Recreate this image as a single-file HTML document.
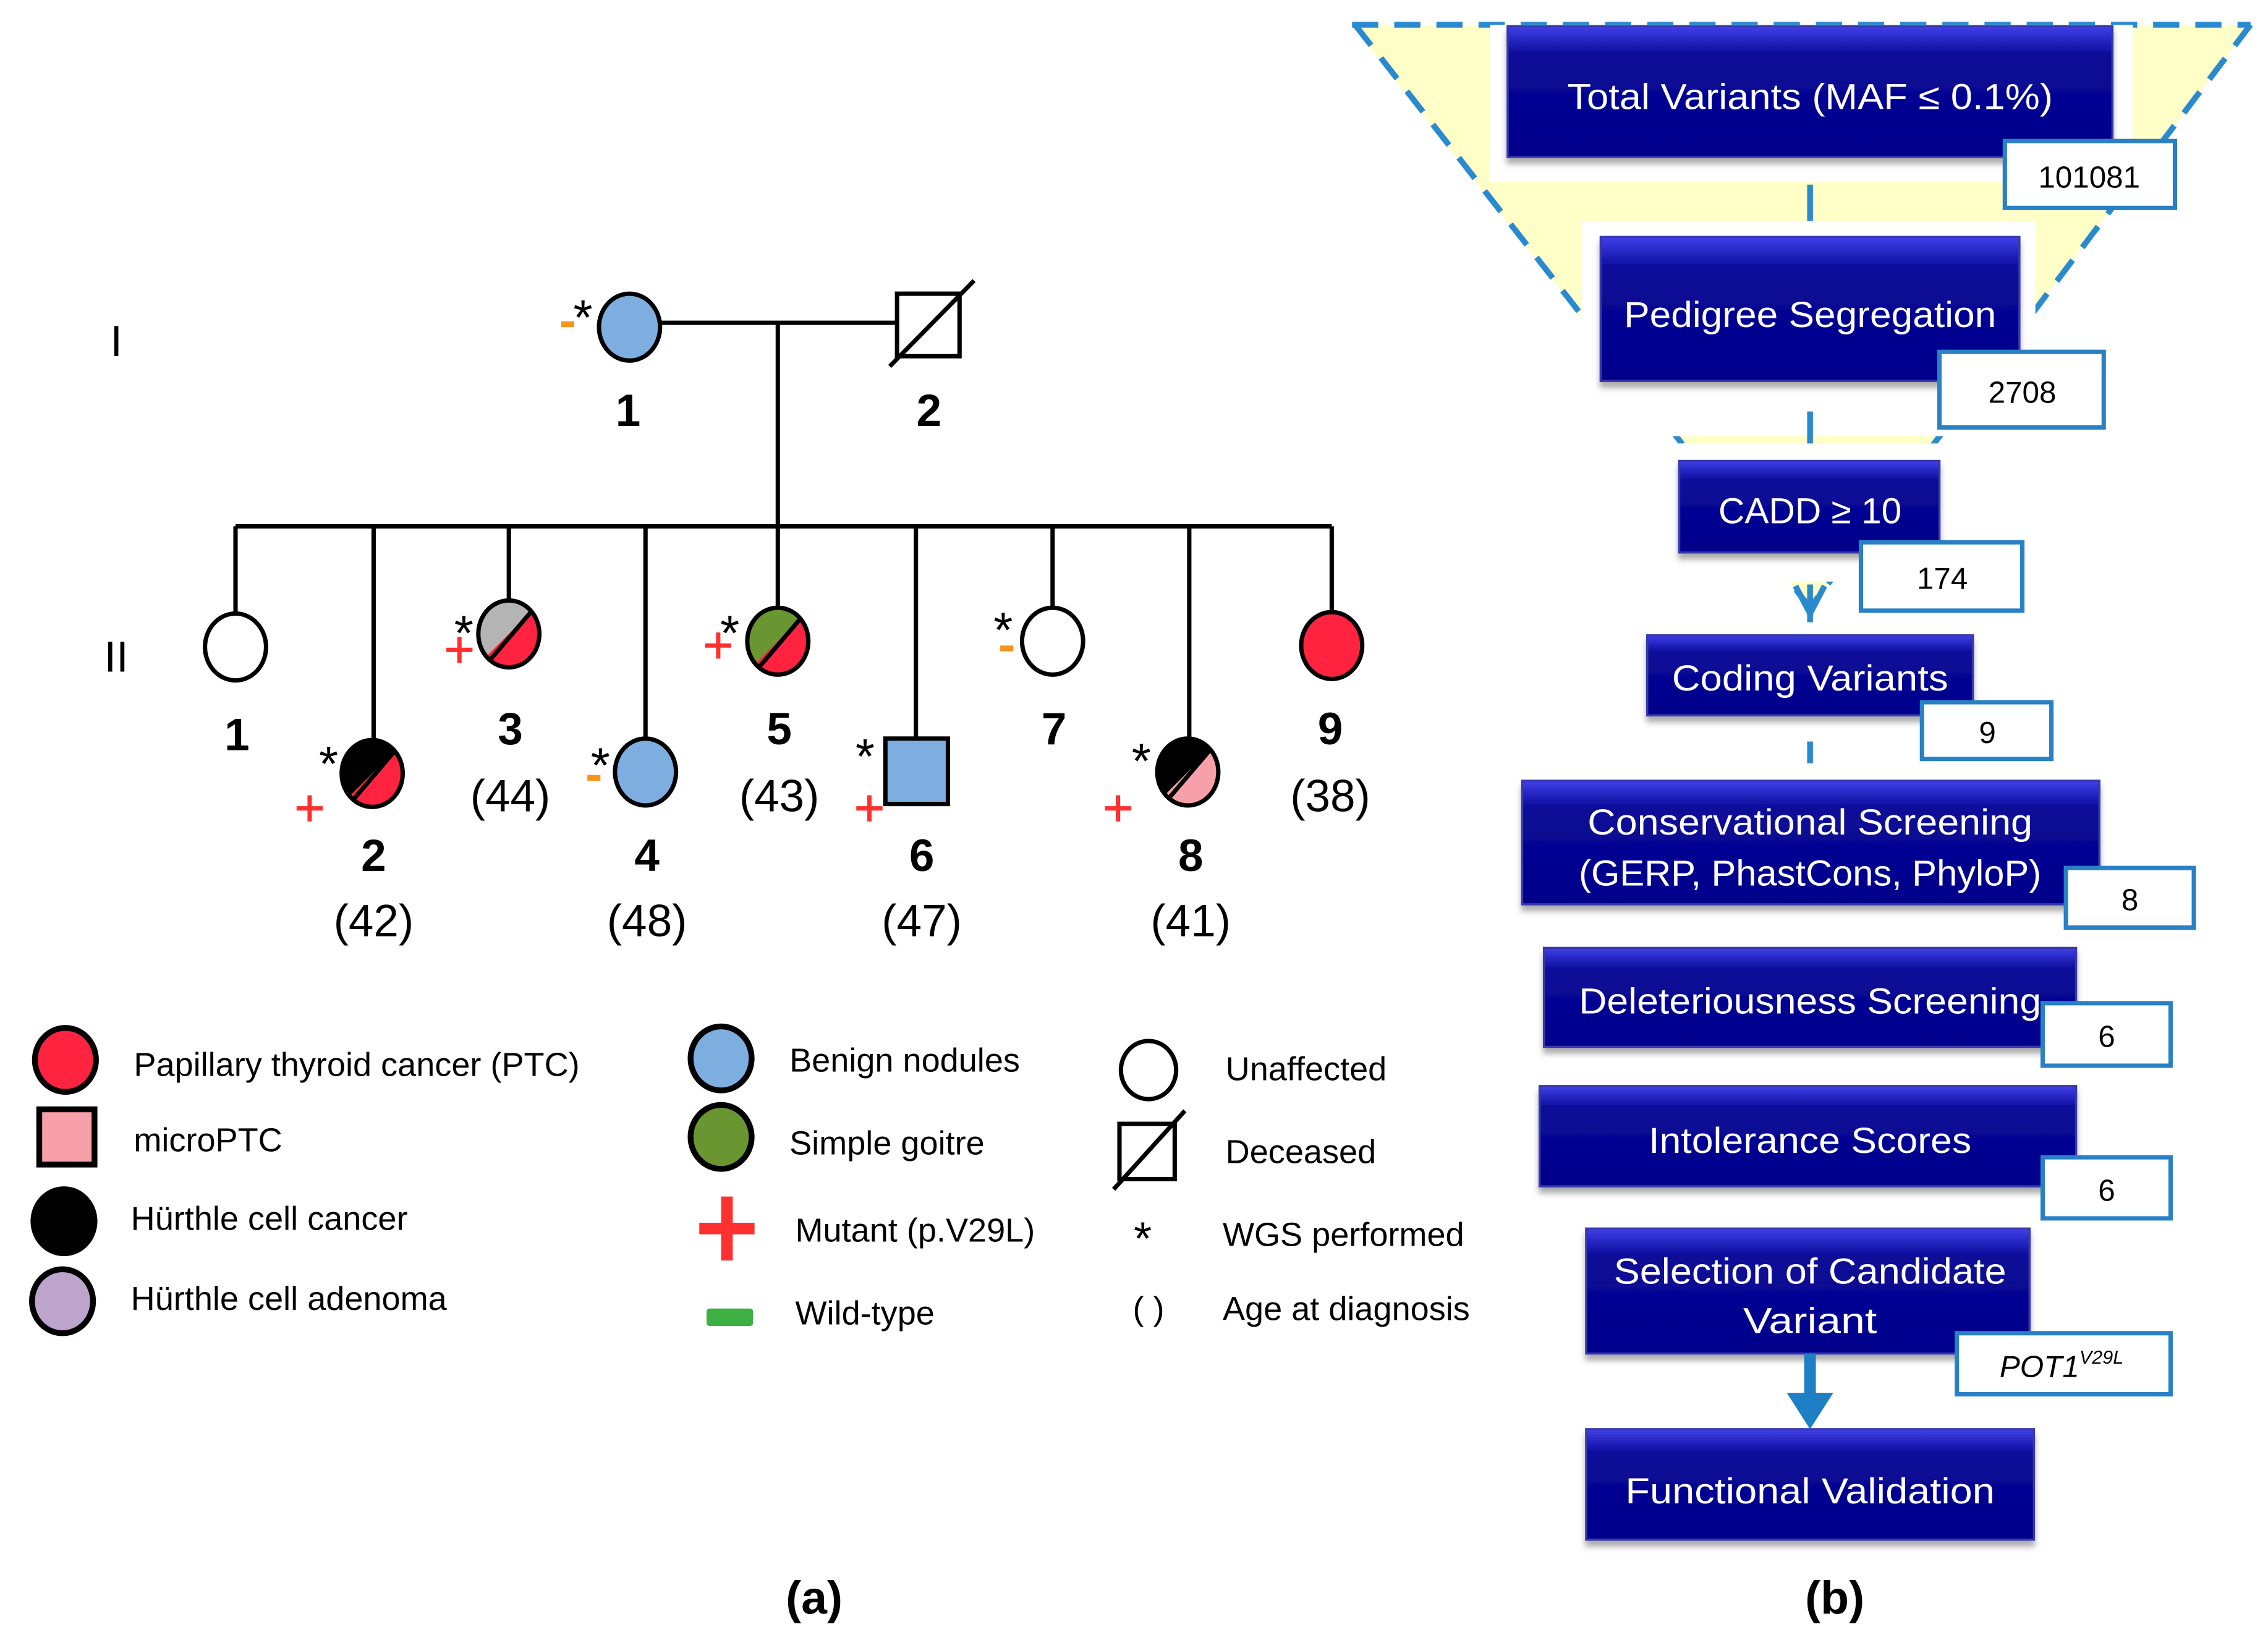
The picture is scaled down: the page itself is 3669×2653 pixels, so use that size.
<!DOCTYPE html>
<html><head><meta charset="utf-8"><style>
html,body{margin:0;padding:0;background:#fff;}
svg{display:block;}
text{font-family:"Liberation Sans",sans-serif;}
</style></head><body>
<svg width="3669" height="2653" viewBox="0 0 1560 1128" xmlns="http://www.w3.org/2000/svg">
<defs>
<linearGradient id="bx" x1="0" y1="0" x2="0" y2="1">
<stop offset="0" stop-color="#4040e8"/><stop offset="0.22" stop-color="#0a0a98"/><stop offset="1" stop-color="#00008a"/>
</linearGradient>
<clipPath id="ul"><polygon points="-40,-40 40,-40 -40,40"/></clipPath>
<filter id="sh" x="-5%" y="-5%" width="110%" height="130%"><feDropShadow dx="0" dy="4" stdDeviation="2" flood-color="#888" flood-opacity="0.7"/></filter>
</defs>
<rect width="1560" height="1128" fill="#fff"/>

<!-- Pedigree (a) -->
<g stroke="#000" stroke-width="3" fill="none">
<line x1="455" y1="222" x2="617" y2="222"/>
<line x1="535" y1="222" x2="535" y2="362"/>
<line x1="162" y1="362" x2="916" y2="362"/>
<line x1="162" y1="362" x2="162" y2="422"/>
<line x1="257" y1="362" x2="257" y2="509"/>
<line x1="350" y1="362" x2="350" y2="413"/>
<line x1="444" y1="362" x2="444" y2="508"/>
<line x1="535" y1="362" x2="535" y2="418"/>
<line x1="630" y1="362" x2="630" y2="508"/>
<line x1="724" y1="362" x2="724" y2="418"/>
<line x1="818" y1="362" x2="818" y2="508"/>
<line x1="916" y1="362" x2="916" y2="421"/>
</g>
<ellipse cx="433" cy="225" rx="21" ry="23" fill="#7eaee0" stroke="#000" stroke-width="3"/>
<rect x="617" y="202" width="43" height="43" fill="#fff" stroke="#000" stroke-width="3"/>
<line x1="612" y1="252" x2="670" y2="193" stroke="#000" stroke-width="3"/>
<g font-weight="bold" font-size="31" text-anchor="middle">
<text x="432" y="293">1</text><text x="639" y="293">2</text>
<text x="163" y="516">1</text><text x="257" y="599">2</text><text x="351" y="512">3</text>
<text x="445" y="599">4</text><text x="536" y="512">5</text><text x="634" y="599">6</text>
<text x="725" y="512">7</text><text x="819" y="599">8</text><text x="915" y="512">9</text>
</g>
<g font-size="31" text-anchor="middle">
<text x="257" y="644">(42)</text><text x="351" y="558">(44)</text><text x="445" y="644">(48)</text>
<text x="536" y="558">(43)</text><text x="634" y="644">(47)</text><text x="819" y="644">(41)</text>
<text x="915" y="558">(38)</text>
<text x="80" y="245" font-size="30">I</text><text x="80" y="462" font-size="30">II</text>
</g>

<!-- children -->
<ellipse cx="162" cy="445" rx="21" ry="23" fill="#fff" stroke="#000" stroke-width="3"/>
<g transform="translate(256,532)"><ellipse rx="21" ry="23" fill="#ff2340"/><ellipse rx="21" ry="23" fill="#000" clip-path="url(#ul)"/><ellipse rx="21" ry="23" fill="none" stroke="#000" stroke-width="3"/><line x1="16" y1="-16" x2="-13" y2="18" stroke="#000" stroke-width="3"/></g>
<g transform="translate(350,436)"><ellipse rx="21" ry="23" fill="#ff2340"/><ellipse rx="21" ry="23" fill="#b4b4b4" clip-path="url(#ul)"/><ellipse rx="21" ry="23" fill="none" stroke="#000" stroke-width="3"/><line x1="16" y1="-16" x2="-13" y2="18" stroke="#000" stroke-width="3"/></g>
<ellipse cx="444" cy="531" rx="21" ry="23" fill="#7eaee0" stroke="#000" stroke-width="3"/>
<g transform="translate(535,441)"><ellipse rx="21" ry="23" fill="#ff2340"/><ellipse rx="21" ry="23" fill="#6a9632" clip-path="url(#ul)"/><ellipse rx="21" ry="23" fill="none" stroke="#000" stroke-width="3"/><line x1="16" y1="-16" x2="-13" y2="18" stroke="#000" stroke-width="3"/></g>
<rect x="609" y="508" width="43" height="45" fill="#7eaee0" stroke="#000" stroke-width="3"/>
<ellipse cx="724" cy="441" rx="21" ry="23" fill="#fff" stroke="#000" stroke-width="3"/>
<g transform="translate(817,531)"><ellipse rx="21" ry="23" fill="#f8a0aa"/><ellipse rx="21" ry="23" fill="#000" clip-path="url(#ul)"/><ellipse rx="21" ry="23" fill="none" stroke="#000" stroke-width="3"/><line x1="16" y1="-16" x2="-13" y2="18" stroke="#000" stroke-width="3"/></g>
<ellipse cx="916" cy="444" rx="21" ry="23" fill="#ff2340" stroke="#000" stroke-width="3"/>

<!-- markers -->
<g font-size="34" text-anchor="middle">
<text x="401" y="230">*</text><text x="226" y="537">*</text><text x="319" y="447">*</text>
<text x="413" y="538">*</text><text x="502" y="447">*</text><text x="595" y="532">*</text>
<text x="690" y="445">*</text><text x="785" y="535">*</text>
</g>
<g fill="#f7941d">
<rect x="386" y="221" width="9" height="4"/><rect x="404" y="533" width="9" height="4"/><rect x="688" y="444" width="9" height="4"/>
</g>
<g stroke="#ff3030" stroke-width="3">
<path d="M316 438v18M307 447h18"/><path d="M213 547v18M204 556h18"/><path d="M494 435v18M485 444h18"/>
<path d="M598 547v18M589 556h18"/><path d="M769 547v18M760 556h18"/>
</g>

<!-- Legend -->
<g stroke="#000" stroke-width="4">
<ellipse cx="45" cy="729" rx="21" ry="22" fill="#ff2340"/>
<rect x="27" y="763" width="38" height="38" fill="#f8a0aa"/>
<ellipse cx="44" cy="840" rx="21" ry="22" fill="#000"/>
<ellipse cx="43" cy="895" rx="21" ry="22" fill="#bca4cc"/>
<ellipse cx="496" cy="728" rx="21" ry="22" fill="#7eaee0"/>
<ellipse cx="496" cy="782" rx="21" ry="22" fill="#6a9632"/>
<ellipse cx="790" cy="736" rx="19" ry="20" fill="#fff" stroke-width="3"/>
<rect x="770" y="773" width="38" height="38" fill="#fff" stroke-width="3"/>
<line x1="766" y1="818" x2="815" y2="764" stroke-width="3"/>
</g>
<path d="M500 823v44M481 845h38" stroke="#ff3030" stroke-width="8"/>
<rect x="486" y="900" width="32" height="12" rx="2" fill="#3cb043"/>
<g font-size="23">
<text x="92" y="740">Papillary thyroid cancer (PTC)</text>
<text x="92" y="792">microPTC</text>
<text x="90" y="846">Hürthle cell cancer</text>
<text x="90" y="901">Hürthle cell adenoma</text>
<text x="543" y="737">Benign nodules</text>
<text x="543" y="794">Simple goitre</text>
<text x="547" y="854">Mutant (p.V29L)</text>
<text x="547" y="911">Wild-type</text>
<text x="843" y="743">Unaffected</text>
<text x="843" y="800">Deceased</text>
<text x="786" y="863" text-anchor="middle" font-size="32">*</text>
<text x="841" y="857">WGS performed</text>
<text x="790" y="908" text-anchor="middle">( )</text>
<text x="841" y="908">Age at diagnosis</text>
</g>
<g font-size="32" font-weight="bold" text-anchor="middle">
<text x="560" y="1110">(a)</text><text x="1262" y="1110">(b)</text>
</g>

<!-- Funnel (b) -->
<polygon points="930,17 1548,17 1245,418" fill="#ffffc8"/>
<g stroke="#2a8ad0" stroke-width="4" stroke-dasharray="18 11" fill="none">
<line x1="930" y1="17" x2="1548" y2="17"/>
<line x1="932" y1="17" x2="1245" y2="418"/>
<line x1="1548" y1="17" x2="1245" y2="418"/>
</g>
<rect x="1025" y="17" width="442" height="108" fill="#fff"/>
<rect x="1088" y="152" width="312" height="148" fill="#fff"/>
<rect x="1140" y="305" width="210" height="95" fill="#fff"/>
<rect x="1230" y="425" width="30" height="100" fill="#fff"/>
<g stroke="#2a8ad0" stroke-width="4">
<line x1="1245" y1="127" x2="1245" y2="152"/>
<line x1="1245" y1="283" x2="1245" y2="305"/>
<line x1="1245" y1="402" x2="1245" y2="428"/>
<line x1="1245" y1="510" x2="1245" y2="525"/>
</g>
<path d="M1235 403 L1245 422 L1255 403" stroke="#2a8ad0" stroke-width="4" fill="none"/>

<g filter="url(#sh)" fill="url(#bx)" stroke="#3838b0" stroke-width="1.5">
<rect x="1037" y="18" width="416" height="90"/>
<rect x="1101" y="163" width="288" height="99"/>
<rect x="1155" y="317" width="179" height="63"/>
<rect x="1133" y="437" width="224" height="55"/>
<rect x="1047" y="537" width="397" height="85"/>
<rect x="1062" y="652" width="366" height="68"/>
<rect x="1059" y="747" width="369" height="69"/>
<rect x="1091" y="845" width="305" height="86"/>
<rect x="1091" y="983" width="308" height="76"/>
</g>
<g fill="#fff" font-size="25" text-anchor="middle">
<text x="1245" y="75" textLength="334" lengthAdjust="spacingAndGlyphs">Total Variants (MAF ≤ 0.1%)</text>
<text x="1245" y="225" textLength="256" lengthAdjust="spacingAndGlyphs">Pedigree Segregation</text>
<text x="1245" y="360" textLength="126" lengthAdjust="spacingAndGlyphs">CADD ≥ 10</text>
<text x="1245" y="475" textLength="190" lengthAdjust="spacingAndGlyphs">Coding Variants</text>
<text x="1245" y="574" textLength="306" lengthAdjust="spacingAndGlyphs">Conservational Screening</text>
<text x="1245" y="609" textLength="318" lengthAdjust="spacingAndGlyphs">(GERP, PhastCons, PhyloP)</text>
<text x="1245" y="697" textLength="318" lengthAdjust="spacingAndGlyphs">Deleteriousness Screening</text>
<text x="1245" y="793" textLength="222" lengthAdjust="spacingAndGlyphs">Intolerance Scores</text>
<text x="1245" y="883" textLength="270" lengthAdjust="spacingAndGlyphs">Selection of Candidate</text>
<text x="1245" y="917" textLength="92" lengthAdjust="spacingAndGlyphs">Variant</text>
<text x="1245" y="1034" textLength="254" lengthAdjust="spacingAndGlyphs">Functional Validation</text>
</g>
<g fill="#fff" stroke="#2a80c4" stroke-width="3">
<rect x="1379" y="97" width="117" height="46"/>
<rect x="1334" y="242" width="113" height="52"/>
<rect x="1280" y="373" width="111" height="47"/>
<rect x="1322" y="483" width="89" height="39"/>
<rect x="1421" y="597" width="88" height="41"/>
<rect x="1405" y="690" width="88" height="43"/>
<rect x="1405" y="796" width="88" height="42"/>
<rect x="1346" y="917" width="147" height="42"/>
</g>
<g font-size="21" text-anchor="middle" fill="#000">
<text x="1437" y="129">101081</text>
<text x="1391" y="277">2708</text>
<text x="1336" y="405">174</text>
<text x="1367" y="511">9</text>
<text x="1465" y="626">8</text>
<text x="1449" y="720">6</text>
<text x="1449" y="826">6</text>
<text x="1418" y="947" font-style="italic">POT1<tspan font-size="13" dy="-9">V29L</tspan></text>
</g>
<rect x="1241" y="931" width="8" height="30" fill="#1f7fc4"/>
<polygon points="1229,958 1261,958 1245,983" fill="#1f7fc4"/>
</svg>
</body></html>
